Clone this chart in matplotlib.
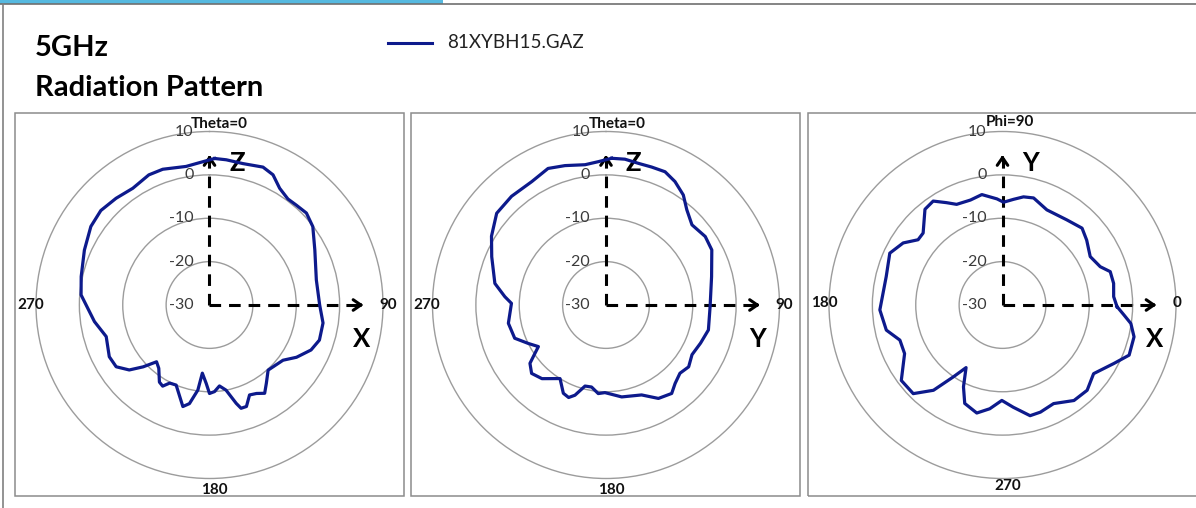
import numpy as np
import matplotlib
matplotlib.use("Agg")
import matplotlib.pyplot as plt
from matplotlib.patches import Rectangle
from matplotlib.lines import Line2D

plt.rcParams['font.family'] = ['Lato', 'DejaVu Sans']

# ---------------- data (angle in degrees, gain in dB) ----------------
# Panel 1: Theta=0 cut, X-Z plane (0 at top, clockwise)
p1_angle = [2, 6.6, 13.3, 21.2, 26, 31, 36.5, 40.9, 46.5, 52.8, 62.4, 76.8, 90, 99, 107.7,
            113.9, 121, 126.9, 138, 144, 148, 152, 156, 160, 163, 164.8, 169, 173, 176.7,
            180, 182.4, 186, 187.8, 191.5, 194.7, 198, 202.6, 207, 210, 213, 218.7, 223,
            227, 231, 236.5, 242.7, 253, 261.8, 274.5, 282.5, 293.7, 303.5, 311, 318.8,
            326.7, 335, 341, 350.4, 356]
p1_gain = [3.8, 3.7, 3.5, 4.1, 3.4, 1.4, 0.4, 0.5, 0.8, -0.1, -2.6, -4.7, -4.6, -3.5, -3.4,
           -4.4, -6.6, -8.8, -9.8, -7.7, -6.0, -6.9, -7.3, -5.1, -5.1, -6.5, -10.0, -11.2, -10.0,
           -9.6, -11.9, -14.2, -10.2, -6.8, -5.8, -7.8, -10.0, -9.8, -8.4, -8.8, -11.3, -12.1,
           -9.1, -6.2, -4.2, -4.0, -5.1, -3.2, -0.3, 0.3, 1.5, 2.8, 3.2, 2.7,
           2.2, 3.1, 3.1, 2.4, 2.9]

# Panel 2: Theta=0 cut, Y-Z plane (0 at top, clockwise)
p2_angle = [2.2, 7.4, 12.9, 18.3, 23.9, 29.2, 35.1, 40.3, 47, 55.4, 62.5, 75, 91, 103.7, 112,
            120, 126.8, 132.7, 138.6, 143.4, 150.7, 158.4, 170.3, 180.7, 185, 190, 194.5, 199,
            202, 205.8, 212, 221, 227.4, 232.5, 235.8, 238.4, 243.7, 250, 259.4, 271, 274.7,
            281, 292.9, 301, 310, 319, 329, 337, 343.6, 351.5, 357]
p2_gain = [3.85, 3.9, 3.5, 3.5, 3.6, 2.6, 1.0, -1.2, -2.9, -2.2, -2.5, -4.8, -6.0, -5.7, -6.5,
           -7.1, -6.2, -6.8, -5.9, -4.6, -5.3, -7.7, -8.5, -9.8, -9.5, -10.8, -10.7, -8.0,
           -7.0, -7.4, -10.0, -7.5, -6.7, -7.9, -10.2, -11.7, -10.0, -7.6, -7.1, -8.2, -6.6,
           -3.9, -1.4, 0.8, 2.9, 3.2, 3.2, 4.2, 3.5, 2.7, 3.1]

# Panel 3: Phi=90 cut, X-Y plane (0 at right, counter-clockwise)
p3_angle = [359.2, 4.3, 11, 17.2, 21.4, 28.9, 37.6, 44, 52.9, 65, 73.8, 79, 84, 89.4, 93, 100.6,
            107, 114.5, 118.7, 123.7, 129, 137.8, 142.3, 148, 155.3, 166.2, 182.3, 192.2,
            198.9, 206.4, 216.7, 224.8, 231, 235.6, 239.8, 244.5, 249, 256.6, 263, 269.6,
            276, 284, 289.5, 297.4, 306.8, 314.8, 323, 332.3, 338.4, 346.4, 351.8, 355.3]
p3_gain = [-3.6, -4.3, -3.9, -4.0, -5.8, -6.9, -5.5, -4.5, -5.4, -5.8, -4.3, -4.6, -5.5, -6.3,
           -5.5, -4.1, -4.7, -4.5, -3.1, -1.2, -1.6, -5.3, -5.4, -3.0, -1.4, -2.4, -1.7, -2.6,
           -5.0, -4.8, -0.9, -1.0, -4.7, -9.9, -13.3, -9.1, -5.7, -4.4, -5.9, -8.0,
           -6.3, -3.7, -3.8, -4.4, -2.5, -2.3, -3.7, -1.0, 1.4, 1.2, -0.1, -1.9]

r_ticks = [-30, -20, -10, 0, 10]
r_tick_labels = ['-30', '-20', '-10', '0', '10']
series_name = '81XYBH15.GAZ'

# ---------------- layout ----------------
W, H = 1196, 508
fig = plt.figure(figsize=(W / 100, H / 100), dpi=100)
fig.patch.set_facecolor('white')

def fx(x):
    return x / W

def fy(y):
    return 1 - y / H

NAVY = '#0d1a8c'
RING = '#9c9c9c'
PX = 0.72  # points per pixel

# decorations: top bar, borders
fig.add_artist(Rectangle((fx(0), fy(3.5)), fx(443), 3.5 / H, transform=fig.transFigure,
                         facecolor='#56b9e0', edgecolor='none'))
fig.add_artist(Line2D([fx(0), fx(W)], [fy(4), fy(4)], transform=fig.transFigure,
                      color='#707070', lw=1.2))
fig.add_artist(Line2D([fx(2.5), fx(2.5)], [fy(4), fy(H)], transform=fig.transFigure,
                      color='#808080', lw=1.2))

boxes = [(15, 404), (411, 800), (808, 1210)]
for x0, x1 in boxes:
    fig.add_artist(Rectangle((fx(x0), fy(496)), (x1 - x0) / W, (496 - 113) / H,
                             transform=fig.transFigure, facecolor='none',
                             edgecolor='#8c8c8c', lw=1.1))

# title and legend
fig.text(fx(35), fy(56), '5GHz', fontsize=21, fontweight='bold', ha='left', va='baseline')
fig.text(fx(35), fy(96.5), 'Radiation Pattern', fontsize=21, fontweight='bold',
         ha='left', va='baseline')
fig.add_artist(Line2D([fx(388), fx(432)], [fy(43), fy(43)], transform=fig.transFigure,
                      color=NAVY, lw=2.2))
fig.text(fx(447), fy(43), series_name, fontsize=13.5, ha='left', va='center', color='#222222')

R_PX = 173.5
centers = [(209.5, 305), (606, 305), (1002.5, 305)]

panels = [
    dict(angle=p1_angle, gain=p1_gain, zero='N', direction=-1, up=0, right=90,
         tlabels=[('Theta=0', 0, (10, 7)), ('90', 90, (5, 0)), ('180', 180, (5, -11.5)),
                  ('270', 270, (-5.5, 0))], vlab='Z', hlab='X'),
    dict(angle=p2_angle, gain=p2_gain, zero='N', direction=-1, up=0, right=90,
         tlabels=[('Theta=0', 0, (11, 7)), ('90', 90, (4.5, 0)), ('180', 180, (5.5, -11.5)),
                  ('270', 270, (-5.5, 0))], vlab='Z', hlab='Y'),
    dict(angle=p3_angle, gain=p3_gain, zero='E', direction=1, up=90, right=0,
         tlabels=[('Phi=90', 90, (7, 10)), ('0', 0, (1, 2)), ('180', 180, (-4.5, 2)),
                  ('270', 270, (5, -8))], vlab='Y', hlab='X'),
]

for (cx, cy), p in zip(centers, panels):
    ax = fig.add_axes([fx(cx - R_PX), fy(cy + R_PX), 2 * R_PX / W, 2 * R_PX / H],
                      projection='polar')
    ax.set_theta_zero_location(p['zero'])
    ax.set_theta_direction(p['direction'])
    ax.set_ylim(r_ticks[0], r_ticks[-1])
    ax.set_yticks(r_ticks[1:-1])
    ax.set_yticklabels([])
    ax.set_xticks([])
    ax.yaxis.grid(True, color=RING, lw=1.0)
    ax.xaxis.grid(False)
    ax.spines['polar'].set_color(RING)
    ax.spines['polar'].set_linewidth(1.0)
    ax.set_facecolor('white')

    th = np.deg2rad(np.r_[p['angle'], p['angle'][0]])
    g = np.r_[p['gain'], p['gain'][0]]
    ax.plot(th, g, color=NAVY, lw=2.3, zorder=4, solid_joinstyle='round')

    up = np.deg2rad(p['up'])
    rt = np.deg2rad(p['right'])
    scale = R_PX / (r_ticks[-1] - r_ticks[0])
    tip_up = r_ticks[0] + 150 / scale
    tip_rt = r_ticks[0] + 154 / scale
    dash = (0, (3.8, 2.6))
    ax.plot([up, up], [r_ticks[0], tip_up - 0.6], color='black', lw=2.2, ls=dash, zorder=3)
    ax.plot([rt, rt], [r_ticks[0], tip_rt - 0.6], color='black', lw=2.2, ls=dash, zorder=3)
    for a, tr in ((up, tip_up), (rt, tip_rt)):
        ax.annotate('', xy=(a, tr), xytext=(a, tr - 1.2),
                    arrowprops=dict(arrowstyle='->,head_length=0.55,head_width=0.38',
                                    lw=2.2, color='black', shrinkA=0, shrinkB=0),
                    annotation_clip=False, zorder=3)

    # radial labels
    for r, lbl in zip(r_ticks, r_tick_labels):
        ax.annotate(lbl, xy=(up, r), xytext=(-16 * PX, 0), textcoords='offset points',
                    ha='right', va='center', fontsize=11.5, color='#3a3a3a',
                    annotation_clip=False, zorder=5)

    # angle labels
    for lbl, ang, (dx, dy) in p['tlabels']:
        ax.annotate(lbl, xy=(np.deg2rad(ang), r_ticks[-1]), xytext=(dx * PX, dy * PX),
                    textcoords='offset points', ha='center', va='center', fontsize=11,
                    fontweight='bold', color='#111111', annotation_clip=False)

    # axis letters
    ax.annotate(p['vlab'], xy=(0, r_ticks[0]), xytext=(20 * PX, 142 * PX),
                textcoords='offset points', ha='left', va='center', fontsize=18.5,
                fontweight='bold', annotation_clip=False)
    ax.annotate(p['hlab'], xy=(0, r_ticks[0]), xytext=(152 * PX, -34 * PX),
                textcoords='offset points', ha='center', va='center', fontsize=18.5,
                fontweight='bold', annotation_clip=False)

fig.savefig('out.png', dpi=100)
